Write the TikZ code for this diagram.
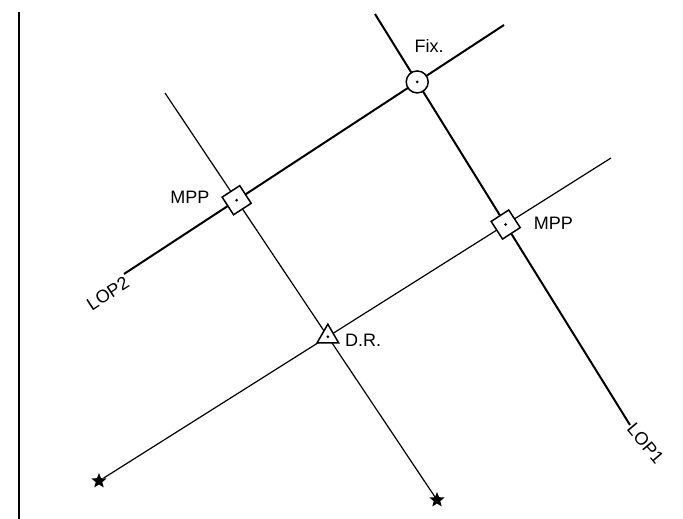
\documentclass[tikz,border=0pt]{standalone}
\usepackage{fontspec}
\setmainfont{Liberation Sans}
\usetikzlibrary{calc,shapes.geometric}

\begin{document}
\begin{tikzpicture}[x=1pt,y=-1pt,
  lop/.style={line width=2pt},
  course/.style={line width=1.2pt},
  lbl/.style={font=\fontsize{18}{20}\selectfont, inner sep=1pt},
  starmark/.style={star, star points=5, star point ratio=2.3, fill, inner sep=0pt, minimum size=16pt},
  fixmark/.style={circle, draw, line width=1.5pt, fill=white, minimum size=22pt, inner sep=0pt},
  mppmark/.style={rectangle, draw, line width=1.5pt, fill=white, minimum size=21pt, inner sep=0pt, rotate=33},
  drmark/.style={regular polygon, regular polygon sides=3, draw, line width=1.5pt, fill=white, minimum size=25pt, inner sep=0pt}]
\useasboundingbox (0,0) rectangle (683,519);
\coordinate (edgeT) at (19,12); \coordinate (edgeB) at (19,519);
\coordinate (L1a) at (375,14); \coordinate (L1b) at (630,425);
\coordinate (L2a) at (124,274); \coordinate (L2b) at (504,25);
\coordinate (crsA) at (165,93); \coordinate (crsB) at (611,158);
\node[starmark] (s1) at (99,481) {};
\node[starmark] (s2) at (437,500) {};
\draw[line width=2.4pt] (edgeT) -- (edgeB);
\draw[lop] (L1a) -- (L1b);
\draw[lop] (L2a) -- (L2b);
\draw[course] (s2) -- (crsA);
\draw[course] (s1) -- (crsB);
% markers
\node[fixmark] (fix) at (intersection of L1a--L1b and L2a--L2b) {};
\node[mppmark] (mppl) at (intersection of L2a--L2b and s2--crsA) {};
\node[mppmark] (mppr) at (intersection of L1a--L1b and s1--crsB) {};
\node[drmark] (dr) at (intersection of s2--crsA and s1--crsB) {};
\foreach \p in {fix,mppl,mppr,dr} \fill (\p) circle (1.5);
% labels
\node[lbl] at ($(fix)+(12,-36)$) {Fix.};
\node[lbl, anchor=east] at ($(mppl)+(-26,-3)$) {MPP};
\node[lbl, anchor=west] at ($(mppr)+(27,-1)$) {MPP};
\node[lbl, anchor=west] at ($(dr)+(16,4)$) {D.R.};
\node[lbl, rotate=33, anchor=north east] at (L2a) {LOP2};
\node[lbl, rotate=-50, anchor=west] at (L1b) {LOP1};
\end{tikzpicture}
\end{document}
